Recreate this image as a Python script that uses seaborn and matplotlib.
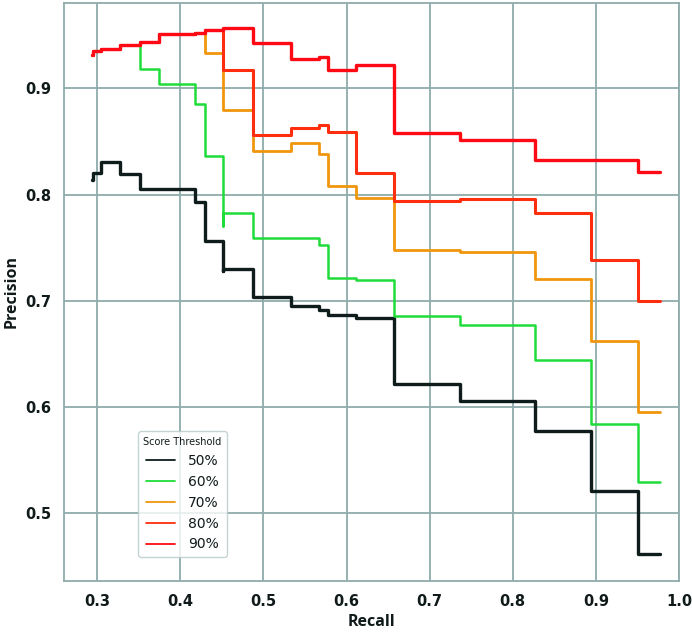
import matplotlib
matplotlib.use("Agg")
import matplotlib.pyplot as plt
import seaborn as sns
import pandas as pd

# ---- data ----
thresholds = ["50%", "60%", "70%", "80%", "90%"]

recall_50 = [0.294, 0.295, 0.305, 0.327, 0.351, 0.418, 0.430, 0.451, 0.451, 0.487,
             0.533, 0.567, 0.578, 0.611, 0.657, 0.737, 0.827, 0.894, 0.951, 0.977]
precision_50 = [0.814, 0.820, 0.831, 0.819, 0.805, 0.793, 0.756, 0.728, 0.730, 0.703,
                0.695, 0.691, 0.686, 0.684, 0.621, 0.605, 0.577, 0.520, 0.461, 0.461]

recall_60 = [0.294, 0.295, 0.305, 0.327, 0.351, 0.374, 0.418, 0.430, 0.451, 0.451,
             0.487, 0.567, 0.578, 0.611, 0.657, 0.737, 0.827, 0.894, 0.951, 0.977]
precision_60 = [0.932, 0.935, 0.937, 0.941, 0.918, 0.904, 0.885, 0.836, 0.770, 0.783,
                0.759, 0.752, 0.721, 0.719, 0.685, 0.677, 0.644, 0.584, 0.529, 0.529]

recall_70 = [0.294, 0.295, 0.305, 0.327, 0.351, 0.374, 0.418, 0.430, 0.451, 0.487,
             0.533, 0.567, 0.578, 0.611, 0.657, 0.737, 0.827, 0.894, 0.951, 0.977]
precision_70 = [0.932, 0.935, 0.937, 0.941, 0.944, 0.951, 0.952, 0.933, 0.880, 0.841,
                0.849, 0.838, 0.808, 0.797, 0.748, 0.746, 0.720, 0.662, 0.595, 0.595]

recall_80 = [0.294, 0.295, 0.305, 0.327, 0.351, 0.374, 0.418, 0.430, 0.451, 0.487,
             0.533, 0.567, 0.578, 0.611, 0.657, 0.737, 0.827, 0.894, 0.951, 0.977]
precision_80 = [0.932, 0.935, 0.937, 0.941, 0.944, 0.951, 0.952, 0.955, 0.917, 0.856,
                0.863, 0.866, 0.859, 0.820, 0.794, 0.796, 0.783, 0.738, 0.700, 0.700]

recall_90 = [0.294, 0.295, 0.305, 0.327, 0.351, 0.374, 0.418, 0.430, 0.451, 0.487,
             0.533, 0.567, 0.578, 0.611, 0.657, 0.737, 0.827, 0.951, 0.977]
precision_90 = [0.932, 0.935, 0.937, 0.941, 0.944, 0.951, 0.952, 0.955, 0.957, 0.943,
                0.928, 0.930, 0.917, 0.922, 0.858, 0.851, 0.833, 0.821, 0.821]

x_ticks = [0.3, 0.4, 0.5, 0.6, 0.7, 0.8, 0.9, 1.0]
y_ticks = [0.5, 0.6, 0.7, 0.8, 0.9]

recalls = [recall_50, recall_60, recall_70, recall_80, recall_90]
precisions = [precision_50, precision_60, precision_70, precision_80, precision_90]

frames = []
for t, r, p in zip(thresholds, recalls, precisions):
    frames.append(pd.DataFrame({"Recall": r, "Precision": p, "Score Threshold": t}))
df = pd.concat(frames, ignore_index=True)

# ---- style ----
grid_col = "#8fabab"
text_col = "#101a1a"
sns.set_style("whitegrid", {"grid.color": grid_col, "axes.edgecolor": grid_col,
                            "text.color": text_col, "axes.labelcolor": text_col,
                            "xtick.color": text_col, "ytick.color": text_col})
plt.rcParams["font.family"] = ["DejaVu Sans"]

palette = {"50%": "#0e1c1c", "60%": "#1fdc3a", "70%": "#f0960c",
           "80%": "#ff2e0e", "90%": "#ff0a14"}
widths = {"50%": 2.4, "60%": 1.8, "70%": 2.0, "80%": 2.2, "90%": 2.4}

fig = plt.figure(figsize=(6.92, 6.32), dpi=100)
ax = fig.add_axes([64 / 692, (632 - 581) / 632, 615 / 692, 578 / 632])

sns.lineplot(data=df, x="Recall", y="Precision", hue="Score Threshold",
             palette=palette, estimator=None, sort=False, ax=ax,
             drawstyle="steps-post", linewidth=2.2)

for line, t in zip(ax.lines, thresholds):
    line.set_linewidth(widths[t])

ax.set_xlim(0.26, 1.0)
ax.set_ylim(0.4356, 0.9806)
ax.set_xticks(x_ticks)
ax.set_yticks(y_ticks)
ax.set_xticklabels([f"{v:.1f}" for v in x_ticks])
ax.set_yticklabels([f"{v:.1f}" for v in y_ticks])
ax.grid(True, color=grid_col, linewidth=1.3)
for s in ax.spines.values():
    s.set_color(grid_col)
    s.set_linewidth(1.3)
ax.tick_params(length=0, labelsize=10.5, pad=9, colors=text_col)
for lab in ax.get_xticklabels() + ax.get_yticklabels():
    lab.set_fontweight("bold")

ax.set_xlabel("Recall", fontsize=11.5, fontweight="bold",
              family=["Open Sans", "DejaVu Sans"], labelpad=4, color=text_col)
ax.set_ylabel("Precision", fontsize=11.5, fontweight="bold",
              family=["Open Sans", "DejaVu Sans"], labelpad=4, color=text_col)

leg = ax.legend(title="Score Threshold", loc="lower left",
                bbox_to_anchor=(0.12, 0.0415), borderaxespad=0,
                fontsize=10, title_fontsize=7, frameon=True,
                handlelength=2.1, handletextpad=0.9, labelspacing=0.5,
                borderpad=0.4)
leg.get_frame().set_edgecolor("#b8c8c8")
leg.get_frame().set_linewidth(1.0)
for h in leg.get_lines():
    h.set_linewidth(1.3)
for t in leg.get_texts():
    t.set_color(text_col)
leg.get_title().set_color(text_col)

fig.savefig("out.png", dpi=100)
